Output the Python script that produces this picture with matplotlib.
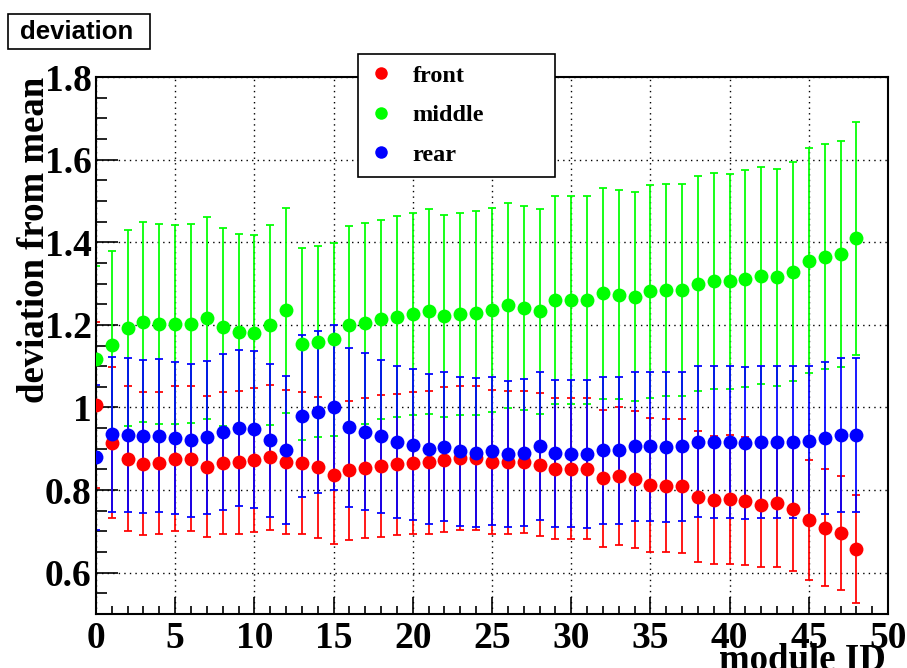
import numpy as np
import matplotlib.pyplot as plt
from matplotlib.ticker import MultipleLocator
from matplotlib.lines import Line2D
from matplotlib.patches import Rectangle

# module deviation from mean, per layer, with errors
module_id = np.arange(49)

front = [1.006, 0.915, 0.876, 0.864, 0.865, 0.876, 0.876, 0.857, 0.865, 0.867,
         0.872, 0.879, 0.868, 0.866, 0.855, 0.836, 0.848, 0.853, 0.859, 0.862,
         0.865, 0.867, 0.874, 0.878, 0.877, 0.868, 0.867, 0.868, 0.861, 0.852,
         0.852, 0.852, 0.829, 0.833, 0.826, 0.812, 0.811, 0.810, 0.784, 0.776,
         0.778, 0.774, 0.765, 0.768, 0.755, 0.727, 0.709, 0.695, 0.657]
front_err = [0.200, 0.183, 0.175, 0.173, 0.172, 0.176, 0.175, 0.171, 0.172, 0.173,
             0.174, 0.175, 0.174, 0.172, 0.171, 0.167, 0.168, 0.169, 0.172, 0.171,
             0.172, 0.174, 0.175, 0.175, 0.174, 0.174, 0.174, 0.173, 0.173, 0.170,
             0.170, 0.170, 0.166, 0.167, 0.165, 0.163, 0.162, 0.162, 0.158, 0.155,
             0.156, 0.155, 0.152, 0.153, 0.151, 0.145, 0.142, 0.138, 0.131]

middle = [1.117, 1.151, 1.192, 1.206, 1.203, 1.201, 1.203, 1.216, 1.195, 1.183,
          1.181, 1.199, 1.235, 1.153, 1.159, 1.165, 1.199, 1.204, 1.213, 1.220,
          1.226, 1.233, 1.222, 1.227, 1.229, 1.235, 1.247, 1.241, 1.233, 1.260,
          1.261, 1.261, 1.276, 1.273, 1.268, 1.281, 1.284, 1.285, 1.300, 1.306,
          1.305, 1.312, 1.319, 1.315, 1.329, 1.355, 1.365, 1.371, 1.410]
middle_err = [0.225, 0.229, 0.238, 0.242, 0.242, 0.241, 0.241, 0.244, 0.240, 0.238,
              0.237, 0.242, 0.248, 0.232, 0.231, 0.233, 0.241, 0.243, 0.242, 0.243,
              0.245, 0.248, 0.244, 0.244, 0.246, 0.247, 0.249, 0.247, 0.248, 0.252,
              0.252, 0.252, 0.256, 0.253, 0.253, 0.258, 0.257, 0.256, 0.260, 0.261,
              0.261, 0.262, 0.263, 0.262, 0.265, 0.272, 0.273, 0.274, 0.282]

rear = [0.879, 0.935, 0.933, 0.930, 0.932, 0.925, 0.921, 0.928, 0.940, 0.951,
        0.947, 0.921, 0.898, 0.980, 0.988, 1.000, 0.952, 0.941, 0.930, 0.917,
        0.910, 0.900, 0.905, 0.894, 0.891, 0.895, 0.887, 0.891, 0.907, 0.889,
        0.888, 0.887, 0.896, 0.896, 0.906, 0.906, 0.904, 0.906, 0.917, 0.917,
        0.917, 0.914, 0.916, 0.916, 0.916, 0.918, 0.926, 0.934, 0.934]
rear_err = [0.175, 0.188, 0.187, 0.186, 0.186, 0.184, 0.185, 0.185, 0.189, 0.189,
            0.190, 0.185, 0.179, 0.196, 0.196, 0.199, 0.192, 0.190, 0.186, 0.184,
            0.183, 0.181, 0.181, 0.180, 0.180, 0.180, 0.176, 0.179, 0.180, 0.178,
            0.178, 0.179, 0.178, 0.178, 0.181, 0.181, 0.181, 0.181, 0.183, 0.184,
            0.184, 0.184, 0.184, 0.184, 0.184, 0.183, 0.185, 0.186, 0.187]

series = [('front', front, front_err, '#ff0000'),
          ('middle', middle, middle_err, '#00ff00'),
          ('rear', rear, rear_err, '#0000ff')]

serif = 'Liberation Serif'
W, H = 907, 668

fig = plt.figure(figsize=(9.07, 6.68), dpi=100)
ax = fig.add_axes([0.1058, 0.0808, 0.8733, 0.8039])

# error bars first, markers on top
for name, y, err, col in series:
    ax.errorbar(module_id, y, yerr=err, fmt='none', ecolor=col, elinewidth=1.4,
                capsize=3, capthick=1.4, alpha=0.9, zorder=2)
for name, y, err, col in series:
    ax.plot(module_id, y, 'o', color=col, markersize=10, markeredgewidth=0, zorder=3)

ax.set_xlim(0, 50)
ax.set_ylim(0.5, 1.8)
ax.xaxis.set_major_locator(MultipleLocator(5))
ax.xaxis.set_minor_locator(MultipleLocator(1))
ax.yaxis.set_major_locator(MultipleLocator(0.2))
ax.yaxis.set_minor_locator(MultipleLocator(0.05))
ax.grid(True, which='major', color='black', linestyle=(0, (1, 3)), linewidth=1.0)

ax.tick_params(axis='both', which='both', direction='in', top=False, right=False)
ax.tick_params(axis='x', which='major', length=12, width=1.2, pad=5)
ax.tick_params(axis='x', which='minor', length=6, width=1.2)
ax.tick_params(axis='y', which='major', length=16, width=1.2, pad=3)
ax.tick_params(axis='y', which='minor', length=8, width=1.2)
for sp in ax.spines.values():
    sp.set_linewidth(1.5)

ax.set_yticks([0.6, 0.8, 1.0, 1.2, 1.4, 1.6, 1.8])
ax.set_yticklabels(['0.6', '0.8', '1', '1.2', '1.4', '1.6', '1.8'])
for lab in ax.get_xticklabels() + ax.get_yticklabels():
    lab.set_fontfamily(serif)
    lab.set_fontweight('bold')
    lab.set_fontsize(27)

fig.text(0.038, 0.885, 'deviation from mean', rotation=90, ha='center', va='top',
         fontfamily=serif, fontweight='bold', fontsize=26.5)
fig.text(0.977, 1 - 643 / H, 'module ID', ha='right', va='top',
         fontfamily=serif, fontweight='bold', fontsize=26.5)

# title box
fig.patches.append(Rectangle((8 / W, 1 - 49 / H), 142 / W, 35 / H,
                             transform=fig.transFigure, facecolor='white',
                             edgecolor='black', linewidth=1.2))
fig.text(77 / W, 1 - 32 / H, 'deviation', ha='center', va='center',
         fontfamily='Liberation Sans', fontweight='bold', fontsize=18.5)

handles = [Line2D([], [], linestyle='none', marker='o', markersize=9,
                  markeredgewidth=0, color=col) for _, _, _, col in series]
leg = ax.legend(handles, [s[0] for s in series], loc='upper left', mode='expand',
                bbox_to_anchor=(358 / W, 1 - 54 / H, 197 / W, 0),
                bbox_transform=fig.transFigure,
                frameon=True, fancybox=False, edgecolor='black', framealpha=1,
                prop={'family': serif, 'weight': 'bold', 'size': 17.5},
                borderpad=0.45, labelspacing=0.72, handlelength=1.0,
                handletextpad=0.8, borderaxespad=0)
leg.get_frame().set_linewidth(1.2)
leg.set_zorder(5)

fig.savefig('out.png', dpi=100)
